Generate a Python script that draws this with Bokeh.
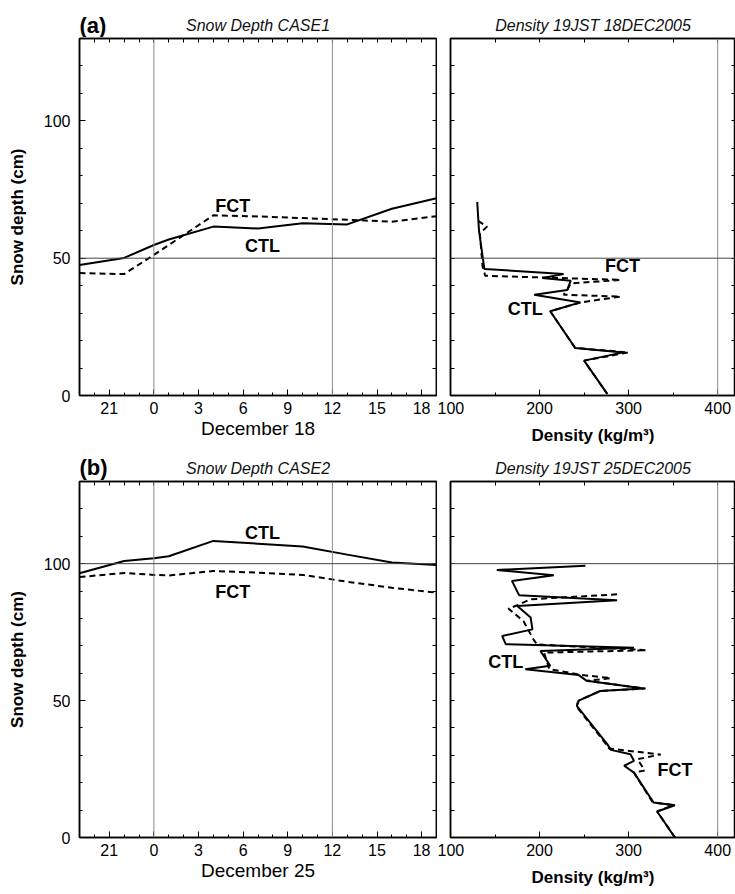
from bokeh.plotting import figure
from bokeh.models import Range1d, LinearAxis, FixedTicker, Span
from bokeh.layouts import row, column
from bokeh.embed import file_html
from bokeh.resources import INLINE
from bokeh.core.properties import value

FONT = "Liberation Sans"

# ---------------- data ----------------
hours = [-5, -2, 0, 1, 4, 7, 10, 13, 16, 19]
case1_ctl = [47.5, 50.1, 54.8, 56.8, 61.5, 60.8, 62.7, 62.3, 68.0, 71.8]
case1_fct = [44.6, 44.2, 51.2, 54.8, 65.6, 65.2, 64.6, 64.0, 63.3, 65.3]
case2_ctl = [96.5, 101.0, 102.0, 102.7, 108.3, 107.3, 106.3, 103.3, 100.4, 99.5]
case2_fct = [95.1, 96.6, 95.9, 95.7, 97.3, 96.7, 95.9, 93.4, 91.2, 89.4]

p1_ctl_dens = [130, 132, 138, 227, 203, 235, 231, 194, 246, 212, 240, 294, 250, 276]
p1_ctl_z = [70.5, 60, 46.1, 44.2, 42.8, 41.8, 38.4, 36.7, 33.9, 30.7, 17.3, 15.7, 12.7, 0.6]
p1_fct_dens = [131, 141, 133, 136, 139, 291, 235, 231, 227, 291, 246, 212, 240, 300, 250, 276]
p1_fct_z = [63.6, 61.5, 59, 47, 43.6, 42.1, 40.8, 38.4, 36.7, 36.0, 33.9, 30.7, 17.3, 15.7, 12.7, 0.6]

p2_ctl_dens = [251.5, 152, 216, 169, 177, 287, 175, 190, 192, 158, 162, 306, 201, 212, 184,
               244, 253, 317, 268, 244, 242, 276, 280, 302, 306, 295, 306, 328, 352, 332, 352]
p2_ctl_z = [99.2, 97.7, 95.8, 93.7, 88.5, 86.6, 84.5, 80.3, 76.0, 73.6, 70.6, 69.3, 68.1, 62.7, 61.4,
            59.3, 57.2, 54.4, 53.5, 50.0, 48.0, 34.1, 32.0, 30.4, 28.0, 26.2, 23.7, 12.8, 11.8, 9.5, 0.0]
p2_fct_dens = [287, 190, 175, 165, 182, 193, 197, 320, 205, 211, 246, 280, 253, 319, 268,
               244, 241, 275, 278, 336, 310, 318, 306, 327, 350, 332, 352]
p2_fct_z = [88.8, 87.0, 84.8, 83.6, 79.0, 72.4, 70.5, 68.4, 67.5, 61.5, 59.4, 58.2, 57.2, 54.4, 53.5,
            50.0, 48.0, 34.0, 32.5, 30.3, 28.6, 24.5, 23.7, 12.8, 11.8, 9.5, 0.0]

hour_ticks = [-3, 0, 3, 6, 9, 12, 15, 18]
hour_labels = {-3: "21"}
hour_minor = list(range(-5, 20))
depth_ticks = [0, 50, 100]
depth_minor = list(range(0, 131, 10))
dens_ticks = [100, 200, 300, 400]
dens_minor = [150, 250, 350]

panel_tags = ["(a)", "(b)"]
time_titles = ["Snow Depth CASE1", "Snow Depth CASE2"]
dens_titles = ["Density 19JST 18DEC2005", "Density 19JST 25DEC2005"]
date_labels = ["December 18", "December 25"]

W = 735


def base_fig(xr, yr, fw, fh, bl, br, bt, bb):
    p = figure(frame_width=fw, frame_height=fh, x_range=xr, y_range=yr,
               min_border_left=bl, min_border_right=br, min_border_top=bt, min_border_bottom=bb,
               output_backend="svg", toolbar_location=None)
    p.grid.visible = False
    p.outline_line_color = "black"
    p.outline_line_width = 1.5
    p.background_fill_color = "white"
    p.border_fill_color = "white"
    return p


def style_axis(ax, ticks, minor, overrides=None):
    ax.ticker = FixedTicker(ticks=ticks, minor_ticks=minor)
    ax.major_tick_in = 6
    ax.major_tick_out = 0
    ax.minor_tick_in = 3
    ax.minor_tick_out = 0
    ax.axis_line_color = "black"
    ax.axis_line_width = 1.5
    ax.major_tick_line_color = "black"
    ax.minor_tick_line_color = "black"
    ax.major_label_text_font = FONT
    ax.major_label_text_color = "black"
    ax.major_label_text_font_size = "16px"
    ax.major_label_standoff = 6
    ax.axis_label_text_font = FONT
    ax.axis_label_text_color = "black"
    if overrides:
        ax.major_label_overrides = overrides


def tick_only_axis(ax, positions):
    # an axis that draws only inward ticks (no labels)
    ax.ticker = FixedTicker(ticks=[], minor_ticks=positions)
    ax.major_tick_in = 0
    ax.major_tick_out = 0
    ax.minor_tick_in = 4
    ax.minor_tick_out = 0
    ax.axis_line_color = "black"
    ax.axis_line_width = 1.5
    ax.minor_tick_line_color = "black"
    ax.major_label_standoff = 0


def add_frame_axes(p, xpos, ypos):
    top = LinearAxis()
    right = LinearAxis()
    p.add_layout(top, "above")
    p.add_layout(right, "right")
    tick_only_axis(top, xpos)
    tick_only_axis(right, ypos)


def lbl(p, x, y, t):
    p.text(x=[x], y=[y], text=[t], text_align="center", text_baseline="middle",
           text_font=value(FONT), text_font_style="bold", text_font_size="18px", text_color="black")


def header(i, h, base_title, base_tag):
    # strip holding the panel tag and the panel titles (screen-pixel coordinates)
    p = figure(frame_width=W, frame_height=h, x_range=Range1d(0, W), y_range=Range1d(0, h),
               min_border=0, output_backend="svg", toolbar_location=None, title=None,
               x_axis_location=None, y_axis_location=None)
    p.grid.visible = False
    p.outline_line_color = None
    p.background_fill_color = "white"
    p.border_fill_color = "white"
    p.text(x=[79], y=[base_tag], text=[panel_tags[i]], text_align="left", text_baseline="alphabetic",
           text_font=value(FONT), text_font_style="bold", text_font_size="22px", text_color="black")
    p.text(x=[257.5, 592.5], y=[base_title, base_title], text=[time_titles[i], dens_titles[i]],
           text_align="center", text_baseline="alphabetic", text_font=value(FONT),
           text_font_style="italic", text_font_size="16px", text_color="#111111")
    return p


def time_panel(i, ctl, fct, hline, ctl_pos, fct_pos, fh, bb):
    p = base_fig(Range1d(-5, 19), Range1d(0, 130), 357, fh, 79, 1, 1, bb)
    style_axis(p.xaxis[0], hour_ticks, hour_minor, overrides=hour_labels)
    style_axis(p.yaxis[0], depth_ticks, depth_minor)
    p.xaxis[0].axis_label = date_labels[i]
    p.xaxis[0].axis_label_text_font_size = "19px"
    p.xaxis[0].axis_label_text_font_style = "normal"
    p.xaxis[0].axis_label_standoff = 1
    p.yaxis[0].axis_label = "Snow depth (cm)"
    p.yaxis[0].axis_label_text_font_size = "17px"
    p.yaxis[0].axis_label_text_font_style = "bold"
    p.yaxis[0].axis_label_standoff = 14
    p.yaxis[0].major_label_standoff = 9
    add_frame_axes(p, hour_minor, depth_minor)
    for xv in (0, 12):
        p.add_layout(Span(location=xv, dimension="height", line_color="#8a8a8a", line_width=1))
    p.add_layout(Span(location=hline, dimension="width", line_color="#444444", line_width=1))
    p.line(hours, ctl, line_color="black", line_width=2)
    p.line(hours, fct, line_color="black", line_width=2, line_dash="6 4")
    lbl(p, ctl_pos[0], ctl_pos[1], "CTL")
    lbl(p, fct_pos[0], fct_pos[1], "FCT")
    return p


def dens_panel(cd, cz, fd, fz, hline, ctl_pos, fct_pos, fh, bb):
    p = base_fig(Range1d(100, 420), Range1d(0, 130), 285, fh, 13, 0, 1, bb)
    style_axis(p.xaxis[0], dens_ticks, dens_minor)
    tick_only_axis(p.yaxis[0], depth_minor)
    p.xaxis[0].axis_label = "Density (kg/m\u00b3)"
    p.xaxis[0].axis_label_text_font_size = "17px"
    p.xaxis[0].axis_label_text_font_style = "bold"
    p.xaxis[0].axis_label_standoff = 9
    add_frame_axes(p, dens_ticks + dens_minor, depth_minor)
    p.add_layout(Span(location=400, dimension="height", line_color="#8a8a8a", line_width=1))
    p.add_layout(Span(location=hline, dimension="width", line_color="#444444", line_width=1))
    p.line(cd, cz, line_color="black", line_width=2)
    p.line(fd, fz, line_color="black", line_width=2, line_dash="6 4")
    lbl(p, ctl_pos[0], ctl_pos[1], "CTL")
    lbl(p, fct_pos[0], fct_pos[1], "FCT")
    return p


h1 = header(0, 37, 12, 12)
a1 = time_panel(0, case1_ctl, case1_fct, 50, (7.3, 54.5), (5.3, 69.0), 357, 53)
a2 = dens_panel(p1_ctl_dens, p1_ctl_z, p1_fct_dens, p1_fct_z, 50, (184, 31.5), (293, 47.3), 357, 53)
h2 = header(1, 32, 12, 13)
b1 = time_panel(1, case2_ctl, case2_fct, 100, (7.3, 111.3), (5.3, 89.7), 356, 57)
b2 = dens_panel(p2_ctl_dens, p2_ctl_z, p2_fct_dens, p2_fct_z, 100, (162, 64.1), (352, 24.6), 356, 57)

layout = column(h1, row(a1, a2, spacing=0), h2, row(b1, b2, spacing=0), spacing=0)
open("out.html", "w").write(file_html(layout, INLINE))
